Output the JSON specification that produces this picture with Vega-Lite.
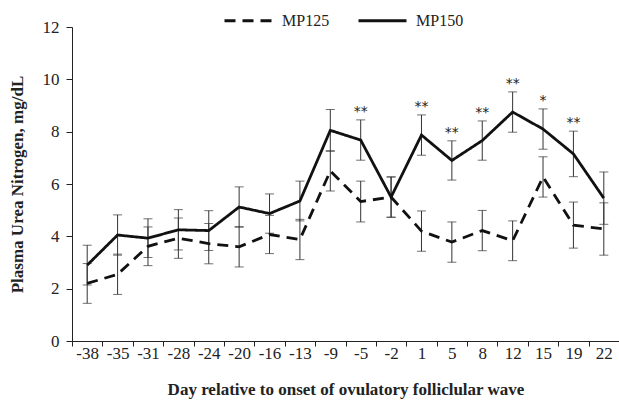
{
  "$schema": "https://vega.github.io/schema/vega-lite/v6.json",
  "width": 547,
  "height": 314,
  "autosize": {"type": "none"},
  "padding": {"left": 72, "top": 27, "right": 0, "bottom": 59},
  "config": {
    "view": {"stroke": null},
    "font": "Liberation Serif",
    "axis": {"grid": false, "domainColor": "#222", "tickColor": "#222", "labelColor": "#222", "titleColor": "#222", "labelFont": "Liberation Serif", "titleFont": "Liberation Serif"}
  },
  "data": {
    "values": [
      {"day": -38, "group": "MP150", "mean": 2.9, "lo": 2.14, "hi": 3.66, "sig": ""},
      {"day": -35, "group": "MP150", "mean": 4.05, "lo": 3.28, "hi": 4.82, "sig": ""},
      {"day": -31, "group": "MP150", "mean": 3.93, "lo": 3.19, "hi": 4.67, "sig": ""},
      {"day": -28, "group": "MP150", "mean": 4.25, "lo": 3.48, "hi": 5.02, "sig": ""},
      {"day": -24, "group": "MP150", "mean": 4.22, "lo": 3.46, "hi": 4.98, "sig": ""},
      {"day": -20, "group": "MP150", "mean": 5.12, "lo": 4.35, "hi": 5.89, "sig": ""},
      {"day": -16, "group": "MP150", "mean": 4.87, "lo": 4.12, "hi": 5.62, "sig": ""},
      {"day": -13, "group": "MP150", "mean": 5.35, "lo": 4.59, "hi": 6.11, "sig": ""},
      {"day": -9, "group": "MP150", "mean": 8.05, "lo": 7.25, "hi": 8.85, "sig": ""},
      {"day": -5, "group": "MP150", "mean": 7.68, "lo": 6.91, "hi": 8.45, "sig": "**"},
      {"day": -2, "group": "MP150", "mean": 5.5, "lo": 4.73, "hi": 6.27, "sig": ""},
      {"day": 1, "group": "MP150", "mean": 7.87, "lo": 7.1, "hi": 8.64, "sig": "**"},
      {"day": 5, "group": "MP150", "mean": 6.9, "lo": 6.15, "hi": 7.65, "sig": "**"},
      {"day": 8, "group": "MP150", "mean": 7.66, "lo": 6.91, "hi": 8.41, "sig": "**"},
      {"day": 12, "group": "MP150", "mean": 8.75, "lo": 7.98, "hi": 9.52, "sig": "**"},
      {"day": 15, "group": "MP150", "mean": 8.1, "lo": 7.33, "hi": 8.87, "sig": "*"},
      {"day": 19, "group": "MP150", "mean": 7.15, "lo": 6.28, "hi": 8.02, "sig": "**"},
      {"day": 22, "group": "MP150", "mean": 5.46, "lo": 4.46, "hi": 6.46, "sig": ""},
      {"day": -38, "group": "MP125", "mean": 2.2, "lo": 1.44, "hi": 2.96, "sig": ""},
      {"day": -35, "group": "MP125", "mean": 2.55, "lo": 1.78, "hi": 3.32, "sig": ""},
      {"day": -31, "group": "MP125", "mean": 3.62, "lo": 2.88, "hi": 4.36, "sig": ""},
      {"day": -28, "group": "MP125", "mean": 3.93, "lo": 3.16, "hi": 4.7, "sig": ""},
      {"day": -24, "group": "MP125", "mean": 3.72, "lo": 2.95, "hi": 4.49, "sig": ""},
      {"day": -20, "group": "MP125", "mean": 3.6, "lo": 2.83, "hi": 4.37, "sig": ""},
      {"day": -16, "group": "MP125", "mean": 4.07, "lo": 3.34, "hi": 4.8, "sig": ""},
      {"day": -13, "group": "MP125", "mean": 3.88, "lo": 3.11, "hi": 4.65, "sig": ""},
      {"day": -9, "group": "MP125", "mean": 6.5, "lo": 5.73, "hi": 7.27, "sig": ""},
      {"day": -5, "group": "MP125", "mean": 5.33, "lo": 4.55, "hi": 6.11, "sig": ""},
      {"day": -2, "group": "MP125", "mean": 5.5, "lo": 4.73, "hi": 6.27, "sig": ""},
      {"day": 1, "group": "MP125", "mean": 4.2, "lo": 3.43, "hi": 4.97, "sig": ""},
      {"day": 5, "group": "MP125", "mean": 3.78, "lo": 3.01, "hi": 4.55, "sig": ""},
      {"day": 8, "group": "MP125", "mean": 4.22, "lo": 3.45, "hi": 4.99, "sig": ""},
      {"day": 12, "group": "MP125", "mean": 3.83, "lo": 3.07, "hi": 4.59, "sig": ""},
      {"day": 15, "group": "MP125", "mean": 6.27, "lo": 5.5, "hi": 7.04, "sig": ""},
      {"day": 19, "group": "MP125", "mean": 4.43, "lo": 3.55, "hi": 5.31, "sig": ""},
      {"day": 22, "group": "MP125", "mean": 4.28, "lo": 3.28, "hi": 5.28, "sig": ""}
    ]
  },
  "encoding": {
    "x": {
      "field": "day",
      "type": "ordinal",
      "scale": {"type": "band", "paddingInner": 0, "paddingOuter": 0},
      "axis": {
        "title": "Day relative to onset of ovulatory folliclular wave",
        "labelAngle": 0,
        "labelFontSize": 17,
        "labelPadding": -1,
        "tickBand": "extent",
        "tickSize": 5,
        "titleFontSize": 17,
        "titleFontWeight": "bold",
        "titlePadding": 20
      }
    }
  },
  "layer": [
    {
      "mark": {"type": "rule", "color": "#333", "strokeWidth": 1},
      "encoding": {
        "y": {"field": "lo", "type": "quantitative"},
        "y2": {"field": "hi"}
      }
    },
    {
      "mark": {"type": "tick", "color": "#333", "size": 9, "thickness": 1},
      "encoding": {"y": {"field": "lo", "type": "quantitative"}}
    },
    {
      "mark": {"type": "tick", "color": "#333", "size": 9, "thickness": 1},
      "encoding": {"y": {"field": "hi", "type": "quantitative"}}
    },
    {
      "mark": {"type": "line", "color": "#111", "strokeWidth": 2.8},
      "encoding": {
        "y": {
          "field": "mean",
          "type": "quantitative",
          "scale": {"domain": [0, 12], "nice": false},
          "axis": {
            "title": "Plasma Urea Nitrogen, mg/dL",
            "values": [0, 2, 4, 6, 8, 10, 12],
            "labelFontSize": 17,
            "labelPadding": 7,
            "tickSize": 6,
            "titleFontSize": 17,
            "titleFontWeight": "bold",
            "titlePadding": 16
          }
        },
        "strokeDash": {
          "field": "group",
          "type": "nominal",
          "scale": {"domain": ["MP125", "MP150"], "range": [[11, 7], [1, 0]]},
          "legend": {
            "title": null,
            "orient": "none",
            "direction": "horizontal",
            "legendX": 151,
            "legendY": -32,
            "symbolType": "stroke",
            "symbolSize": 2304,
            "symbolStrokeWidth": 2.8,
            "symbolStrokeColor": "#111",
            "labelFontSize": 16,
            "labelFont": "Liberation Serif",
            "labelColor": "#222",
            "labelOffset": 8,
            "columnPadding": 22
          }
        }
      }
    },
    {
      "transform": [{"filter": "datum.sig != ''"}],
      "mark": {"type": "text", "font": "DejaVu Sans", "fontSize": 14, "baseline": "bottom", "dy": -1, "fill": "#222"},
      "encoding": {
        "y": {"field": "hi", "type": "quantitative"},
        "text": {"field": "sig"}
      }
    }
  ]
}
